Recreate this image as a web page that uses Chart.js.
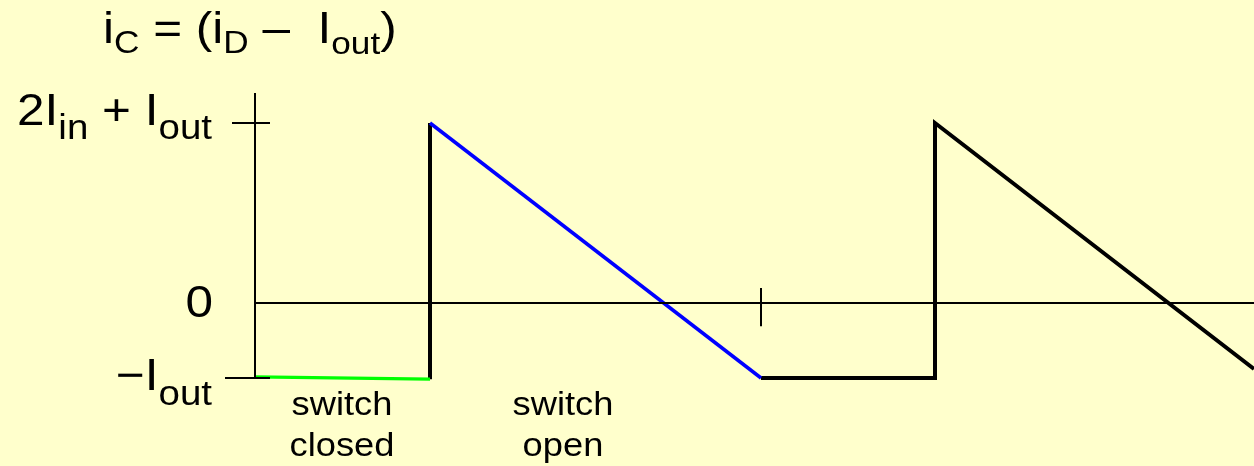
<!DOCTYPE html>
<html>
<head>
<meta charset="utf-8">
<script src="https://cdn.jsdelivr.net/npm/chart.js@4/dist/chart.umd.min.js"></script>
<style>
  body { margin: 0; background: #FFFFCC; }
  canvas { display: block; }
</style>
</head>
<body>
<canvas id="icChart" width="1254" height="466"></canvas>
<script>
// time axis: 1 unit = one tenth of the drawing width; current in units of Iout
const closedX = [0, 1.75];
const closedY = [-0.985, -1.015];
const jumpX = [1.75, 1.75];
const jumpY = [-1.015, 2.4];
const openX = [1.75, 5.06];
const openY = [2.4, -1.0];
const nextX = [5.06, 6.80, 6.80, 9.99];
const nextY = [-1.0, -1.0, 2.4, -0.88];

const levelValues = [2.4, 0, -1];   // 2Iin + Iout, 0, -Iout
const periodTickX = 5.06;
const switchLabels = [["switch", "closed"], ["switch", "open"]];
const switchLabelX = [0.87, 3.08];

const toPts = (xs, ys) => xs.map((x, i) => ({ x: x, y: ys[i] }));

function line(pts, color, width) {
  return {
    data: pts, showLine: true, borderColor: color, borderWidth: width,
    pointRadius: 0, borderCapStyle: "butt", borderJoinStyle: "miter", clip: false
  };
}

// rich text with subscripts, slightly stretched sideways like the original slide
const SX = 1.1;
function drawRich(ctx, parts, x, y, align) {
  let w = 0;
  parts.forEach(p => { ctx.font = p.font; w += ctx.measureText(p.t).width; });
  ctx.save();
  ctx.translate(align === "right" ? x - w * SX : x, y);
  ctx.scale(SX, 1);
  let cx = 0;
  parts.forEach(p => {
    ctx.font = p.font;
    ctx.fillText(p.t, cx, p.dy || 0);
    cx += ctx.measureText(p.t).width;
  });
  ctx.restore();
}

const MAIN = "45px 'Liberation Sans', Arial, sans-serif";
const SUB = "35px 'Liberation Sans', Arial, sans-serif";
const SUBT = "32px 'Liberation Sans', Arial, sans-serif";

const textPlugin = {
  id: "slideText",
  afterDraw(chart) {
    const ctx = chart.ctx;
    const xs = chart.scales.x, ys = chart.scales.y;
    ctx.save();
    ctx.fillStyle = "#000";
    ctx.textBaseline = "alphabetic";

    drawRich(ctx, [
      { t: "i", font: MAIN }, { t: "C", font: SUBT, dy: 10 },
      { t: " = (i", font: MAIN }, { t: "D", font: SUBT, dy: 10 },
      { t: " \u2013  I", font: MAIN }, { t: "out", font: SUBT, dy: 11 },
      { t: ")", font: MAIN }
    ], 103, 43, "left");

    const rx = 212;
    drawRich(ctx, [
      { t: "2I", font: MAIN }, { t: "in", font: SUB, dy: 14 },
      { t: " + I", font: MAIN }, { t: "out", font: SUB, dy: 14 }
    ], rx, ys.getPixelForValue(levelValues[0]) + 2, "right");
    drawRich(ctx, [{ t: "0", font: MAIN }], rx + 1, ys.getPixelForValue(levelValues[1]) + 14, "right");
    drawRich(ctx, [
      { t: "\u2212I", font: MAIN }, { t: "out", font: SUB, dy: 15 }
    ], rx, ys.getPixelForValue(levelValues[2]) + 12, "right");

    const small = "33px 'Liberation Sans', Arial, sans-serif";
    ctx.textAlign = "center";
    switchLabels.forEach((lines, i) => {
      const cx = xs.getPixelForValue(switchLabelX[i]);
      lines.forEach((s, j) => {
        ctx.save();
        ctx.translate(cx, 415 + j * 41);
        ctx.scale(SX, 1);
        ctx.font = small;
        ctx.fillText(s, 0, 0);
        ctx.restore();
      });
    });
    ctx.restore();
  }
};

new Chart(document.getElementById("icChart"), {
  type: "scatter",
  data: {
    datasets: [
      // axes and ticks
      line(toPts([0, 0], [-1, 2.8]), "#000", 2),
      line(toPts([0, 9.99], [0, 0]), "#000", 2),
      line(toPts([-0.23, 0.15], [levelValues[0], levelValues[0]]), "#000", 2),
      line(toPts([-0.30, 0.15], [levelValues[2], levelValues[2]]), "#000", 2),
      line(toPts([periodTickX, periodTickX], [0.2, -0.31]), "#000", 2),
      // waveform
      line(toPts(closedX, closedY), "#00FF00", 3.5),
      line(toPts(openX, openY), "#0000FF", 3.5),
      line(toPts(jumpX, jumpY), "#000", 4),
      line(toPts(nextX, nextY), "#000", 4)
    ]
  },
  options: {
    responsive: false,
    animation: false,
    events: [],
    layout: { padding: { left: 255, top: 93, right: 0, bottom: 73 } },
    plugins: { legend: { display: false }, tooltip: { enabled: false } },
    scales: {
      x: { type: "linear", min: 0, max: 9.99, display: false },
      y: { min: -1.2, max: 2.8, display: false }
    }
  },
  plugins: [textPlugin]
});
</script>
</body>
</html>
